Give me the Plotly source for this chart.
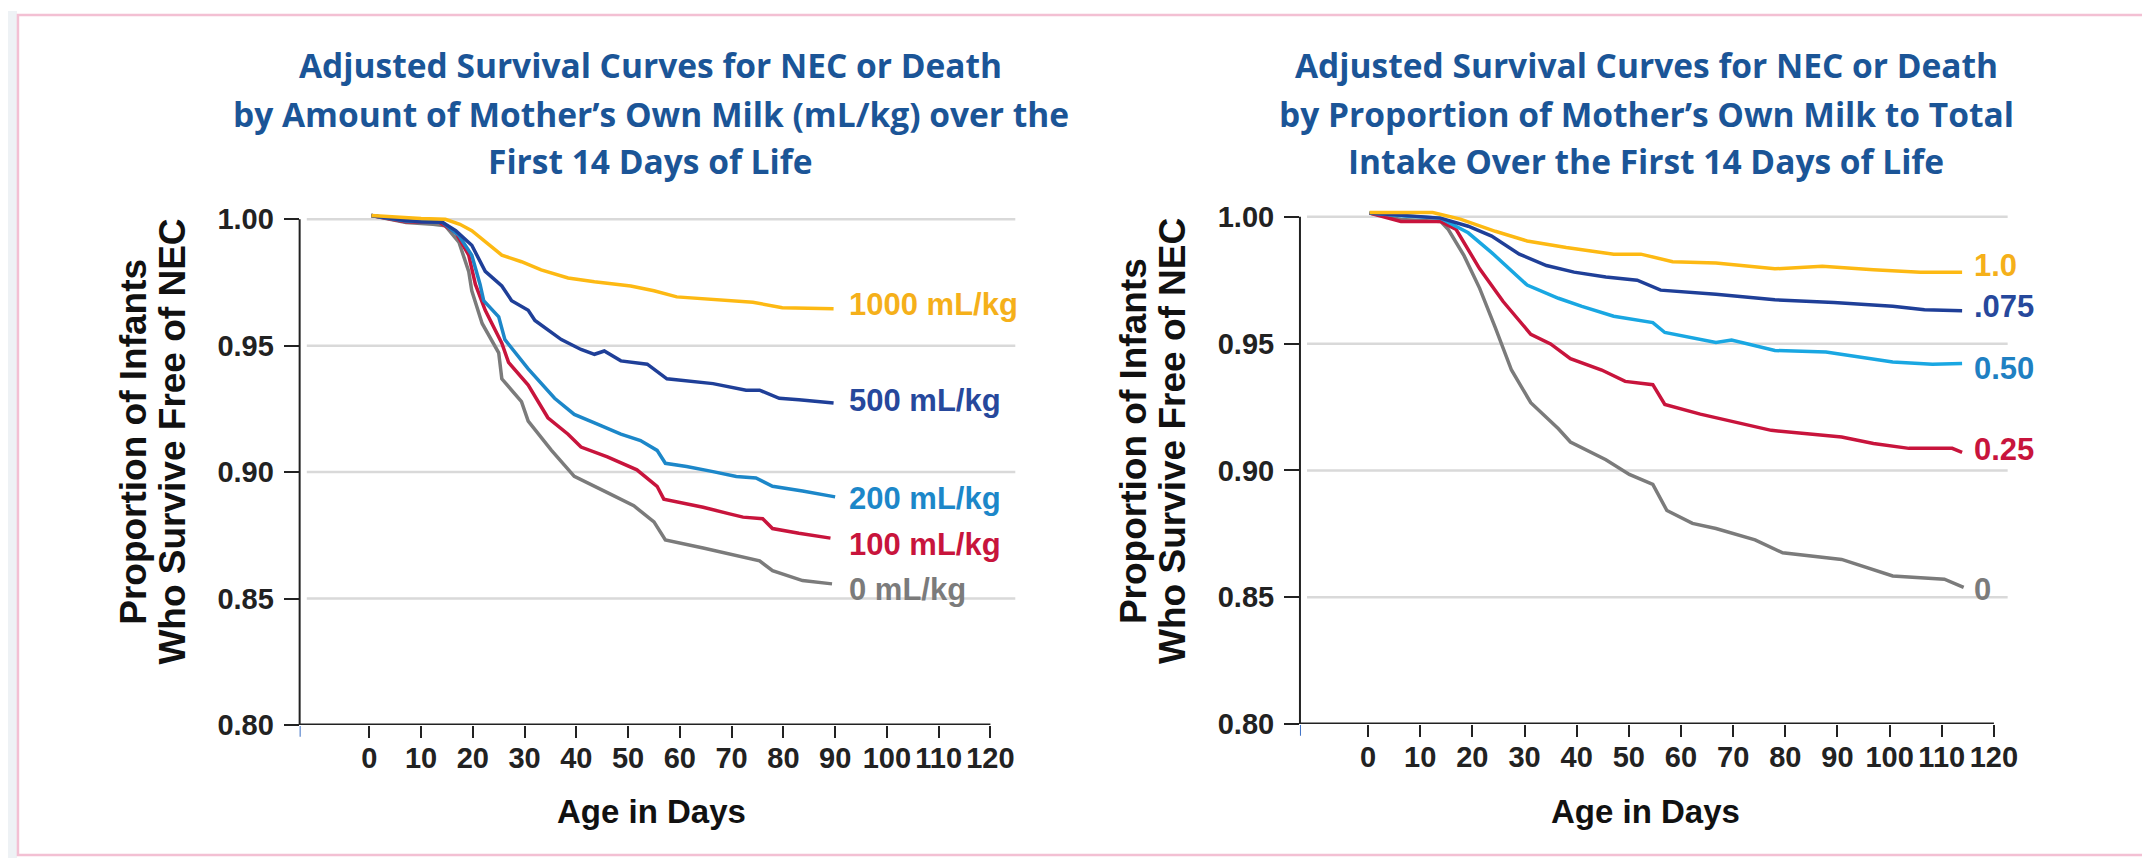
import plotly.graph_objects as go

# ---------------- DATA ----------------
# Left panel: amount of mother's own milk (mL/kg)
left_names = ["0 mL/kg", "100 mL/kg", "200 mL/kg", "500 mL/kg", "1000 mL/kg"]
left_0_days = [0.4, 7.1, 12.3, 14.7, 17.3, 19.2, 19.8, 21.8, 25, 25.6, 29.4, 30.7, 35.2, 39.6, 46, 51.1, 55, 57.2, 64.5, 70.9, 75.4, 77.9, 83.7, 89.4]
left_0_vals = [1.0015, 0.9987, 0.998, 0.9974, 0.991, 0.9794, 0.9717, 0.9588, 0.9472, 0.9369, 0.9279, 0.9202, 0.9086, 0.8983, 0.8919, 0.8867, 0.8803, 0.8732, 0.87, 0.8668, 0.8649, 0.861, 0.8571, 0.8558]
left_100_days = [0.4, 7, 13.5, 16.7, 19.2, 20.5, 22.4, 25.6, 26.9, 30.7, 34.5, 38.4, 40.9, 46, 51.7, 55.6, 56.9, 64.5, 69.6, 72.2, 76, 77.9, 83, 89.1]
left_100_vals = [1.0015, 0.999, 0.9988, 0.9948, 0.9858, 0.9742, 0.964, 0.951, 0.9434, 0.9344, 0.9215, 0.915, 0.9099, 0.906, 0.9009, 0.8944, 0.8893, 0.8861, 0.8835, 0.8822, 0.8816, 0.8777, 0.8758, 0.8739]
left_200_days = [0.4, 7, 14.1, 17.3, 19.8, 21.4, 22.1, 25, 26.2, 30.7, 35.8, 39.6, 43.5, 48.6, 52.4, 55.6, 57.2, 61.3, 66.4, 70.9, 74.7, 77.9, 83.7, 90]
left_200_vals = [1.0015, 0.9993, 0.9988, 0.9936, 0.9858, 0.9742, 0.9678, 0.9614, 0.9524, 0.9408, 0.9292, 0.9228, 0.9195, 0.915, 0.9125, 0.9086, 0.9035, 0.9022, 0.9002, 0.8983, 0.8977, 0.8944, 0.8925, 0.8902]
left_500_days = [0.4, 7, 10, 14.1, 16.7, 19.8, 22.4, 25.6, 27.5, 30.7, 32, 37.1, 40.9, 43.5, 45.4, 48.6, 53.7, 57.5, 66.4, 72.8, 75.4, 79.2, 83, 89.7]
left_500_vals = [1.0015, 0.9995, 0.999, 0.9988, 0.9955, 0.9897, 0.9794, 0.9736, 0.9678, 0.964, 0.96, 0.9524, 0.9485, 0.9466, 0.9479, 0.944, 0.9427, 0.9369, 0.935, 0.9324, 0.9324, 0.9292, 0.9286, 0.9273]
left_1000_days = [0.4, 5, 10, 14.7, 17.5, 19.8, 21.8, 25.6, 29.4, 33.2, 38.4, 43.5, 50.5, 55, 59.4, 64.5, 74.1, 79.8, 89.7]
left_1000_vals = [1.0015, 1.0008, 1.0003, 1.0, 0.998, 0.9955, 0.9923, 0.9858, 0.9832, 0.98, 0.9768, 0.9753, 0.9736, 0.9717, 0.9693, 0.9685, 0.9672, 0.965, 0.9646]

# Right panel: proportion of mother's own milk to total intake
right_names = ["0", "0.25", "0.50", ".075", "1.0"]
right_0_days = [0.3, 6.3, 13.9, 15.4, 18.4, 21.4, 24.4, 27.5, 31.2, 36.5, 38.8, 45.6, 50.1, 54.6, 57.3, 62.2, 66.7, 74.2, 79.5, 90.8, 100.6, 110.5, 114.2]
right_0_vals = [1.0015, 0.999, 0.9982, 0.995, 0.9847, 0.9718, 0.9563, 0.9396, 0.9267, 0.9164, 0.9112, 0.9042, 0.8984, 0.8945, 0.8842, 0.8791, 0.8771, 0.8726, 0.8675, 0.8649, 0.8584, 0.8571, 0.8539]
right_025_days = [0.3, 6.3, 13.9, 16.9, 21.4, 25.9, 31.2, 35, 38.8, 44.8, 49.3, 54.6, 56.9, 63.7, 77.3, 90.8, 96.9, 103.7, 112, 113.9]
right_025_vals = [1.0015, 0.9982, 0.9982, 0.995, 0.9795, 0.9666, 0.9537, 0.9499, 0.9441, 0.9396, 0.9351, 0.9338, 0.926, 0.9222, 0.9158, 0.9132, 0.9106, 0.9087, 0.9087, 0.9071]
right_050_days = [0.3, 7, 13.9, 19.2, 23.7, 30.5, 36.5, 41, 47.1, 54.6, 56.9, 66.7, 69.7, 78, 87.8, 100.6, 108.2, 113.9]
right_050_vals = [1.0015, 1.0003, 0.9995, 0.9937, 0.9859, 0.9731, 0.9679, 0.9647, 0.9608, 0.9583, 0.9544, 0.9505, 0.9514, 0.9473, 0.9467, 0.9428, 0.9419, 0.9422]
right_075_days = [0.3, 7, 13.9, 19.2, 23.7, 29, 34.2, 39.5, 45.6, 51.6, 56.1, 66.7, 78, 89.3, 100.6, 106.7, 113.9]
right_075_vals = [1.0015, 1.0005, 0.9995, 0.9963, 0.9924, 0.9853, 0.9808, 0.9782, 0.9763, 0.975, 0.9711, 0.9695, 0.9673, 0.9662, 0.9647, 0.9634, 0.963]
right_100_days = [0.3, 12.4, 17.7, 24.4, 30.5, 38, 47.1, 52.3, 58.4, 66.7, 78, 87.1, 96.9, 105.9, 113.9]
right_100_vals = [1.0017, 1.0017, 0.9991, 0.9943, 0.9905, 0.9879, 0.9853, 0.9853, 0.9823, 0.9818, 0.9795, 0.9805, 0.9791, 0.9782, 0.9782]

x_ticks = [0, 10, 20, 30, 40, 50, 60, 70, 80, 90, 100, 110, 120]
y_ticks = [0.80, 0.85, 0.90, 0.95, 1.00]
y_ticktext = ["0.80", "0.85", "0.90", "0.95", "1.00"]

left_title = ["Adjusted Survival Curves for NEC or Death",
              "by Amount of Mother\u2019s Own Milk (mL/kg) over the",
              "First 14 Days of Life"]
right_title = ["Adjusted Survival Curves for NEC or Death",
               "by Proportion of Mother\u2019s Own Milk to Total",
               "Intake Over the First 14 Days of Life"]
y_title = ["Proportion of Infants", "Who Survive Free of NEC"]
x_title = "Age in Days"

# ---------------- STYLE ----------------
W, H = 2150, 866
def px(p):
    return p / W
def py(p):
    return 1 - p / H

GOLD = "#FDB913"
GOLD_T = "#F5B01A"
DBLUE = "#1F3F98"
DBLUE_T = "#26489C"
LBLUE = "#1C87C9"
CYAN = "#19A7E2"
CYAN_T = "#1F80C2"
RED = "#C8143C"
GRAY = "#7B7B7B"
TITLE_BLUE = "#1B5597"
AXIS = "#222222"
GRID = "#D9D9D9"
LW = 3.5

ARIAL = "Liberation Sans, Arial, sans-serif"
TITLE_FONT = "Open Sans, Lato, sans-serif"

left_series = [
    (left_0_days, left_0_vals, GRAY),
    (left_100_days, left_100_vals, RED),
    (left_200_days, left_200_vals, LBLUE),
    (left_500_days, left_500_vals, DBLUE),
    (left_1000_days, left_1000_vals, GOLD),
]
right_series = [
    (right_0_days, right_0_vals, GRAY),
    (right_025_days, right_025_vals, RED),
    (right_050_days, right_050_vals, CYAN),
    (right_075_days, right_075_vals, DBLUE),
    (right_100_days, right_100_vals, GOLD),
]

fig = go.Figure()
for (d, v, c), name in zip(left_series, left_names):
    fig.add_trace(go.Scatter(x=d, y=v, mode="lines", name=name,
                             line=dict(color=c, width=LW), xaxis="x", yaxis="y",
                             showlegend=False, hoverinfo="skip"))
for (d, v, c), name in zip(right_series, right_names):
    fig.add_trace(go.Scatter(x=d, y=v, mode="lines", name=name,
                             line=dict(color=c, width=LW), xaxis="x2", yaxis="y2",
                             showlegend=False, hoverinfo="skip"))

# panel geometry (pixels)
L = dict(x0=293, x1=1012, zero=363, perday=5.2, ybot=730, ytop=200)
R = dict(x0=1298, x1=2009, zero=1366.4, perday=5.24, ybot=729, ytop=197.5)

def xrange_of(P):
    return [(P["x0"] - P["zero"]) / P["perday"], (P["x1"] - P["zero"]) / P["perday"]]

tickfont = dict(family=ARIAL, size=29, color=AXIS, weight="bold")
common_x = dict(tickmode="array", tickvals=x_ticks, ticks="outside", ticklen=12,
                tickwidth=2, tickcolor=AXIS, showgrid=False, zeroline=False,
                showline=False, tickfont=tickfont, ticklabelstandoff=-5, fixedrange=True)
common_y = dict(tickmode="array", tickvals=y_ticks, ticktext=y_ticktext,
                range=[0.80, 1.005], ticks="outside", ticklen=15, tickwidth=2,
                tickcolor=AXIS, showgrid=False, zeroline=False, showline=False,
                tickfont=tickfont, ticklabelstandoff=4, fixedrange=True)

fig.update_layout(
    width=W, height=H, autosize=False,
    margin=dict(l=0, r=0, t=0, b=0),
    paper_bgcolor="white", plot_bgcolor="rgba(0,0,0,0)",
    xaxis=dict(domain=[px(L["x0"]), px(L["x1"])], range=xrange_of(L), anchor="y", **common_x),
    yaxis=dict(domain=[py(L["ybot"]), py(L["ytop"])], anchor="x", **common_y),
    xaxis2=dict(domain=[px(R["x0"]), px(R["x1"])], range=xrange_of(R), anchor="y2", **common_x),
    yaxis2=dict(domain=[py(R["ybot"]), py(R["ytop"])], anchor="x2", **common_y),
)

shapes = []
# page frame
shapes.append(dict(type="rect", xref="paper", yref="paper", x0=0, x1=px(9), y0=0, y1=1,
                   line=dict(width=0), fillcolor="#EEF2F5", layer="below"))
shapes.append(dict(type="rect", xref="paper", yref="paper", x0=px(10), x1=px(2148),
                   y0=py(863), y1=py(4), line=dict(color="#F3C0D3", width=2.5)))
for xa, ya in (("x", "y"), ("x2", "y2")):
    # gridlines (not at the baseline)
    for v in y_ticks[1:]:
        shapes.append(dict(type="line", xref=xa + " domain", yref=ya, x0=0.01, x1=1,
                           y0=v, y1=v, line=dict(color=GRID, width=2.5), layer="below"))
    # y axis line from 0.80 to 1.00
    shapes.append(dict(type="line", xref=xa + " domain", yref=ya, x0=0, x1=0,
                       y0=y_ticks[0], y1=y_ticks[-1], line=dict(color=AXIS, width=2)))
# x axis lines
for xa, ya, P in (("x", "y", L), ("x2", "y2", R)):
    x_start = xrange_of(P)[0]
    shapes.append(dict(type="line", xref=xa, yref=ya, x0=x_start, x1=x_ticks[-1],
                       y0=y_ticks[0], y1=y_ticks[0], line=dict(color=AXIS, width=3)))
    shapes.append(dict(type="line", xref=xa, yref="paper", x0=x_start, x1=x_start,
                       y0=py(P["ybot"] + 1), y1=py(P["ybot"] + 12),
                       line=dict(color="#3B6FC4", width=2)))
fig.update_layout(shapes=shapes)

ann = []
# titles
title_font = dict(family=TITLE_FONT, size=33.5, color=TITLE_BLUE, weight="bold")
for cx, lines in ((646, left_title), (1646, right_title)):
    for yc, t in zip((55, 105, 153), lines):
        ann.append(dict(xref="paper", yref="paper", x=px(cx), y=py(yc), text=t,
                        showarrow=False, xanchor="center", yanchor="middle", font=title_font))
# y titles
yt_font = dict(family=ARIAL, size=37, color="#111111", weight="bold")
for xc1, xc2 in ((126, 165), (1131, 1170)):
    for xc, t in zip((xc1, xc2), y_title):
        ann.append(dict(xref="paper", yref="paper", x=px(xc), y=py(440), text=t,
                        textangle=-90, showarrow=False, xanchor="center", yanchor="middle",
                        font=yt_font))
# x titles
for cx in (647, 1645):
    ann.append(dict(xref="paper", yref="paper", x=px(cx), y=py(818), text=x_title,
                    showarrow=False, xanchor="center", yanchor="middle",
                    font=dict(family=ARIAL, size=33, color="#111111", weight="bold")))
# series labels
lab_font = dict(family=ARIAL, size=31, weight="bold")
left_lab = [("1000 mL/kg", GOLD_T, 300), ("500 mL/kg", DBLUE_T, 398),
            ("200 mL/kg", LBLUE, 498), ("100 mL/kg", RED, 545), ("0 mL/kg", GRAY, 591)]
right_lab = [("1.0", GOLD_T, 260), (".075", DBLUE_T, 302), ("0.50", CYAN_T, 366),
             ("0.25", RED, 448), ("0", GRAY, 591)]
for x0, labs in ((843, left_lab), (1973, right_lab)):
    for t, c, yc in labs:
        ann.append(dict(xref="paper", yref="paper", x=px(x0), y=py(yc), text=t,
                        showarrow=False, xanchor="left", yanchor="middle",
                        font=dict(color=c, **lab_font)))
fig.update_layout(annotations=ann)

fig.write_html("out.html")
